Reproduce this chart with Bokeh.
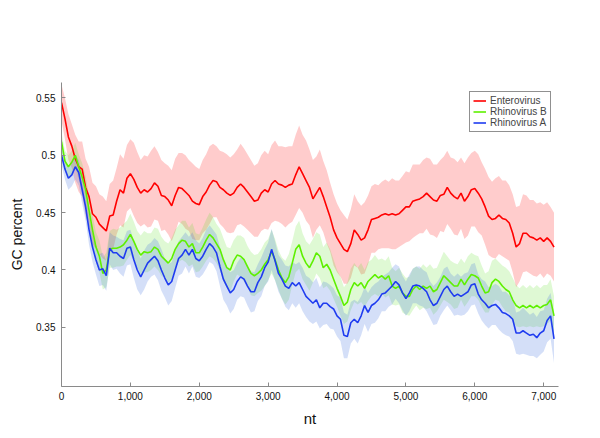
import numpy as np
from bokeh.plotting import figure
from bokeh.models import (ColumnDataSource, FixedTicker, NumeralTickFormatter,
                          Legend, LegendItem, Range1d)
from bokeh.embed import file_html
from bokeh.resources import INLINE

# nucleotide positions (sliding-window centres), every 50 nt
nt = list(range(0, 7151, 50))

series_names = ["Enterovirus", "Rhinovirus B", "Rhinovirus A"]

entero = [
    0.546, 0.532, 0.516, 0.508, 0.497, 0.490, 0.488, 0.472, 0.464, 0.449,
    0.446, 0.440, 0.437, 0.434, 0.447, 0.448, 0.460, 0.470, 0.467, 0.480,
    0.484, 0.479, 0.472, 0.467, 0.470, 0.468, 0.471, 0.476, 0.473, 0.465,
    0.464, 0.461, 0.456, 0.465, 0.472, 0.471, 0.468, 0.465, 0.460, 0.458,
    0.457, 0.464, 0.468, 0.474, 0.478, 0.477, 0.472, 0.470, 0.467, 0.465,
    0.467, 0.472, 0.475, 0.472, 0.468, 0.464, 0.460, 0.461, 0.467, 0.470,
    0.468, 0.475, 0.478, 0.475, 0.474, 0.472, 0.474, 0.475, 0.483, 0.490,
    0.484, 0.478, 0.472, 0.462, 0.467, 0.472, 0.464, 0.455, 0.446, 0.435,
    0.428, 0.423, 0.418, 0.416, 0.423, 0.435, 0.431, 0.426, 0.428, 0.435,
    0.444, 0.445, 0.446, 0.448, 0.449, 0.448, 0.449, 0.448, 0.449, 0.452,
    0.455, 0.455, 0.460, 0.461, 0.462, 0.464, 0.467, 0.464, 0.461, 0.460,
    0.465, 0.466, 0.472, 0.467, 0.464, 0.462, 0.467, 0.460, 0.464, 0.470,
    0.471, 0.467, 0.462, 0.455, 0.447, 0.444, 0.445, 0.448, 0.445, 0.444,
    0.441, 0.432, 0.420, 0.423, 0.432, 0.432, 0.429, 0.428, 0.426, 0.428,
    0.425, 0.428, 0.425, 0.420,
]

rhino_b = [
    0.512, 0.495, 0.490, 0.494, 0.500, 0.490, 0.481, 0.470, 0.452, 0.435,
    0.420, 0.412, 0.397, 0.400, 0.418, 0.419, 0.419, 0.420, 0.422, 0.426,
    0.431, 0.425, 0.418, 0.413, 0.416, 0.415, 0.416, 0.420, 0.418, 0.412,
    0.409, 0.406, 0.410, 0.418, 0.423, 0.426, 0.425, 0.420, 0.423, 0.415,
    0.415, 0.420, 0.426, 0.431, 0.428, 0.423, 0.418, 0.409, 0.402, 0.400,
    0.408, 0.413, 0.412, 0.409, 0.403, 0.397, 0.395, 0.397, 0.400, 0.405,
    0.409, 0.416, 0.409, 0.400, 0.393, 0.389, 0.394, 0.406, 0.418, 0.422,
    0.412, 0.406, 0.402, 0.408, 0.415, 0.412, 0.402, 0.405, 0.400, 0.392,
    0.384, 0.377, 0.369, 0.372, 0.383, 0.389, 0.386, 0.389, 0.384, 0.390,
    0.393, 0.396, 0.393, 0.395, 0.392, 0.395, 0.386, 0.384, 0.386, 0.380,
    0.377, 0.377, 0.383, 0.386, 0.383, 0.386, 0.384, 0.386, 0.381, 0.383,
    0.389, 0.395, 0.392, 0.389, 0.386, 0.386, 0.392, 0.387, 0.392, 0.396,
    0.395, 0.393, 0.386, 0.380, 0.381, 0.389, 0.392, 0.390, 0.386, 0.383,
    0.381, 0.374, 0.369, 0.367, 0.369, 0.367, 0.369, 0.367, 0.369, 0.367,
    0.369, 0.370, 0.374, 0.360,
]

rhino_a = [
    0.500, 0.488, 0.480, 0.483, 0.490, 0.485, 0.470, 0.455, 0.435, 0.420,
    0.409, 0.400, 0.401, 0.395, 0.419, 0.415, 0.415, 0.412, 0.410, 0.419,
    0.420, 0.409, 0.400, 0.394, 0.400, 0.406, 0.409, 0.412, 0.408, 0.400,
    0.393, 0.387, 0.390, 0.400, 0.410, 0.413, 0.418, 0.413, 0.418, 0.410,
    0.408, 0.412, 0.418, 0.423, 0.420, 0.415, 0.403, 0.392, 0.386, 0.380,
    0.383, 0.390, 0.394, 0.392, 0.386, 0.381, 0.381, 0.389, 0.394, 0.402,
    0.407, 0.418, 0.408, 0.397, 0.392, 0.386, 0.384, 0.389, 0.386, 0.389,
    0.383, 0.377, 0.374, 0.371, 0.374, 0.367, 0.371, 0.371, 0.368, 0.366,
    0.360, 0.357, 0.343, 0.342, 0.354, 0.357, 0.354, 0.360, 0.369, 0.363,
    0.369, 0.371, 0.374, 0.379, 0.380, 0.383, 0.386, 0.390, 0.387, 0.380,
    0.375, 0.380, 0.386, 0.387, 0.386, 0.384, 0.381, 0.374, 0.369, 0.371,
    0.377, 0.383, 0.386, 0.381, 0.377, 0.379, 0.377, 0.379, 0.381, 0.387,
    0.388, 0.379, 0.374, 0.371, 0.367, 0.369, 0.370, 0.367, 0.363, 0.362,
    0.360, 0.357, 0.345, 0.345, 0.347, 0.345, 0.343, 0.344, 0.341, 0.345,
    0.347, 0.356, 0.360, 0.340,
]

# half-widths of the shaded bands (spread around each mean curve)
entero_hw = [
    0.016, 0.018, 0.020, 0.019, 0.021, 0.022, 0.024, 0.025, 0.026, 0.027,
    0.027, 0.026, 0.027, 0.026, 0.028, 0.030, 0.029, 0.031, 0.030, 0.029,
    0.030, 0.032, 0.031, 0.029, 0.030, 0.031, 0.033, 0.032, 0.030, 0.031,
    0.029, 0.030, 0.031, 0.032, 0.030, 0.031, 0.032, 0.031, 0.033, 0.032,
    0.031, 0.032, 0.033, 0.034, 0.032, 0.031, 0.032, 0.033, 0.034, 0.033,
    0.034, 0.033, 0.035, 0.034, 0.033, 0.032, 0.031, 0.032, 0.033, 0.034,
    0.033, 0.034, 0.035, 0.033, 0.034, 0.035, 0.034, 0.033, 0.035, 0.036,
    0.034, 0.035, 0.033, 0.034, 0.032, 0.033, 0.031, 0.032, 0.030, 0.031,
    0.030, 0.029, 0.030, 0.028, 0.030, 0.031, 0.029, 0.030, 0.031, 0.030,
    0.029, 0.030, 0.028, 0.029, 0.030, 0.029, 0.031, 0.030, 0.029, 0.030,
    0.031, 0.030, 0.032, 0.031, 0.030, 0.032, 0.031, 0.033, 0.031, 0.032,
    0.031, 0.033, 0.032, 0.031, 0.033, 0.032, 0.031, 0.033, 0.034, 0.032,
    0.033, 0.034, 0.032, 0.033, 0.034, 0.033, 0.035, 0.034, 0.033, 0.034,
    0.033, 0.034, 0.035, 0.033, 0.034, 0.033, 0.032, 0.033, 0.032, 0.031,
    0.032, 0.031, 0.030, 0.030,
]

rhino_b_hw = [
    0.008, 0.009, 0.010, 0.010, 0.011, 0.011, 0.012, 0.012, 0.013, 0.013,
    0.013, 0.014, 0.014, 0.015, 0.016, 0.017, 0.016, 0.017, 0.018, 0.017,
    0.018, 0.017, 0.016, 0.017, 0.018, 0.017, 0.016, 0.017, 0.018, 0.017,
    0.016, 0.017, 0.018, 0.017, 0.016, 0.017, 0.018, 0.017, 0.018, 0.017,
    0.016, 0.017, 0.018, 0.019, 0.018, 0.017, 0.018, 0.019, 0.018, 0.019,
    0.018, 0.017, 0.018, 0.019, 0.018, 0.019, 0.018, 0.017, 0.018, 0.019,
    0.018, 0.019, 0.018, 0.017, 0.018, 0.019, 0.020, 0.019, 0.020, 0.021,
    0.020, 0.019, 0.020, 0.019, 0.018, 0.019, 0.018, 0.019, 0.018, 0.017,
    0.016, 0.017, 0.016, 0.017, 0.018, 0.017, 0.016, 0.017, 0.016, 0.017,
    0.016, 0.017, 0.016, 0.015, 0.016, 0.017, 0.016, 0.015, 0.016, 0.017,
    0.016, 0.017, 0.018, 0.017, 0.018, 0.019, 0.018, 0.019, 0.020, 0.019,
    0.020, 0.021, 0.020, 0.019, 0.020, 0.019, 0.018, 0.019, 0.020, 0.019,
    0.018, 0.019, 0.018, 0.017, 0.018, 0.019, 0.018, 0.017, 0.018, 0.019,
    0.018, 0.019, 0.018, 0.017, 0.018, 0.017, 0.018, 0.017, 0.018, 0.017,
    0.018, 0.017, 0.018, 0.017,
]

rhino_a_hw = [
    0.008, 0.009, 0.010, 0.010, 0.011, 0.011, 0.012, 0.012, 0.013, 0.013,
    0.013, 0.014, 0.014, 0.013, 0.014, 0.015, 0.014, 0.015, 0.016, 0.015,
    0.015, 0.016, 0.017, 0.016, 0.017, 0.016, 0.015, 0.016, 0.017, 0.018,
    0.017, 0.018, 0.017, 0.016, 0.015, 0.016, 0.015, 0.016, 0.015, 0.016,
    0.015, 0.016, 0.017, 0.016, 0.015, 0.016, 0.017, 0.018, 0.017, 0.018,
    0.017, 0.016, 0.017, 0.016, 0.017, 0.018, 0.017, 0.016, 0.017, 0.016,
    0.017, 0.018, 0.017, 0.016, 0.017, 0.018, 0.019, 0.018, 0.019, 0.018,
    0.019, 0.018, 0.019, 0.018, 0.019, 0.018, 0.019, 0.018, 0.019, 0.018,
    0.018, 0.019, 0.020, 0.019, 0.018, 0.017, 0.018, 0.017, 0.016, 0.017,
    0.016, 0.017, 0.016, 0.015, 0.016, 0.015, 0.016, 0.015, 0.016, 0.015,
    0.015, 0.016, 0.015, 0.016, 0.017, 0.016, 0.017, 0.016, 0.017, 0.018,
    0.017, 0.018, 0.017, 0.016, 0.017, 0.018, 0.017, 0.018, 0.017, 0.018,
    0.018, 0.017, 0.018, 0.019, 0.018, 0.017, 0.018, 0.019, 0.018, 0.019,
    0.018, 0.019, 0.018, 0.019, 0.020, 0.019, 0.018, 0.019, 0.018, 0.019,
    0.018, 0.019, 0.020, 0.021,
]

y_ticks = [0.35, 0.4, 0.45, 0.5, 0.55]
y_tick_labels = ["0.35", "0.4", "0.45", "0.5", "0.55"]
x_ticks = [0, 1000, 2000, 3000, 4000, 5000, 6000, 7000]

line_colors = ["#ff0000", "#5ef000", "#1f3cf0"]
band_colors = ["#ff0000", "#5ee02a", "#3a6fe0"]
band_alphas = [0.2, 0.2, 0.22]

FONT = "Liberation Sans"

p = figure(width=600, height=430, output_backend="svg", toolbar_location=None,
           x_range=Range1d(0, 7215), y_range=Range1d(0.2984, 0.5635),
           min_border_left=61, min_border_right=42, min_border_top=82,
           min_border_bottom=44)
p.outline_line_color = None
p.xgrid.visible = False
p.ygrid.visible = False
p.background_fill_color = "white"

means = [entero, rhino_b, rhino_a]
hws = [entero_hw, rhino_b_hw, rhino_a_hw]
x = np.array(nt, dtype=float)

for m, hw, bc, ba in zip(means, hws, band_colors, band_alphas):
    m = np.array(m)
    hw = np.array(hw)
    src = ColumnDataSource(dict(x=x, lo=m - hw, hi=m + hw))
    p.varea(x="x", y1="lo", y2="hi", source=src, fill_color=bc, fill_alpha=ba)

renderers = []
for m, lc in zip(means, line_colors):
    src = ColumnDataSource(dict(x=x, y=np.array(m)))
    r = p.line(x="x", y="y", source=src, line_color=lc, line_width=1.6)
    renderers.append(r)

legend = Legend(items=[LegendItem(label=n, renderers=[r])
                       for n, r in zip(series_names, renderers)],
                location=(408, 254))
legend.label_text_font = FONT
legend.label_text_font_size = "10px"
legend.label_height = 11
legend.label_standoff = 4
legend.glyph_width = 13
legend.glyph_height = 11
legend.spacing = 0
legend.padding = 3
legend.margin = 0
legend.border_line_color = "#222222"
legend.border_line_width = 1
legend.background_fill_alpha = 1
p.add_layout(legend, "center")

for ax in (p.xaxis[0], p.yaxis[0]):
    ax.axis_line_color = "#8a8a8a"
    ax.major_tick_line_color = "#8a8a8a"
    ax.major_tick_in = 4
    ax.major_tick_out = 0
    ax.minor_tick_line_color = None
    ax.major_label_text_font = FONT
    ax.major_label_text_font_size = "10px"
    ax.major_label_text_color = "#111111"
    ax.axis_label_text_font = FONT
    ax.axis_label_text_font_style = "normal"
    ax.axis_label_text_color = "#111111"

p.xaxis.ticker = FixedTicker(ticks=x_ticks)
p.xaxis.formatter = NumeralTickFormatter(format="0,0")
p.xaxis.axis_label = "nt"
p.xaxis.axis_label_text_font_size = "15px"
p.xaxis.major_label_standoff = 5
p.xaxis.axis_label_standoff = 7

p.yaxis.ticker = FixedTicker(ticks=y_ticks)
p.yaxis.major_label_overrides = {t: l for t, l in zip(y_ticks, y_tick_labels)}
p.yaxis.axis_label = "GC percent"
p.yaxis.axis_label_text_font_size = "14px"
p.yaxis.major_label_standoff = 6
p.yaxis.axis_label_standoff = 8

open("out.html", "w").write(file_html(p, INLINE))
